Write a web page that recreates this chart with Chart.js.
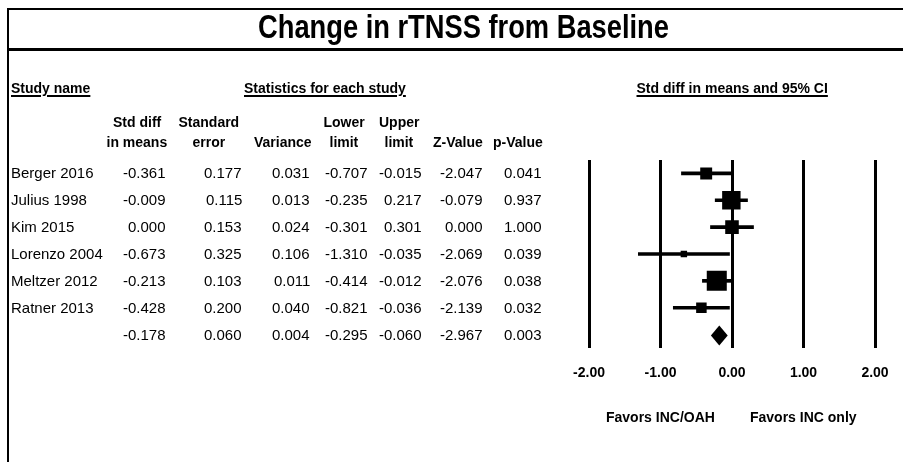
<!DOCTYPE html>
<html><head><meta charset="utf-8">
<script src="https://cdn.jsdelivr.net/npm/chart.js@4"></script>
<style>
html,body{margin:0;padding:0;background:#fff;}
#wrap{position:relative;width:903px;height:462px;overflow:hidden;background:#fff;font-family:"Liberation Sans",Arial,sans-serif;color:#000;}
#c{position:absolute;left:0;top:0;}
.t{position:absolute;white-space:nowrap;color:#000;}
.ln{position:absolute;background:#000;}
</style></head><body>
<div id="wrap">
<canvas id="c" width="903" height="462"></canvas>
<div class="ln" style="left:7px;top:8px;width:896px;height:2px"></div>
<div class="ln" style="left:7px;top:48px;width:896px;height:3px"></div>
<div class="ln" style="left:7px;top:8px;width:2px;height:454px"></div>
</div>
<script>
// ---- data ----
const studies  = ['Berger 2016','Julius 1998','Kim 2015','Lorenzo 2004','Meltzer 2012','Ratner 2013',''];
const stdDiff  = [-0.361,-0.009, 0.000,-0.673,-0.213,-0.428,-0.178];
const stdErr   = [ 0.177, 0.115, 0.153, 0.325, 0.103, 0.200, 0.060];
const variance = [ 0.031, 0.013, 0.024, 0.106, 0.011, 0.040, 0.004];
const lowerLim = [-0.707,-0.235,-0.301,-1.310,-0.414,-0.821,-0.295];
const upperLim = [-0.015, 0.217, 0.301,-0.035,-0.012,-0.036,-0.060];
const zValue   = [-2.047,-0.079, 0.000,-2.069,-2.076,-2.139,-2.967];
const pValue   = [ 0.041, 0.937, 1.000, 0.039, 0.038, 0.032, 0.003];
const xTicks   = [-2,-1,0,1,2];
const summaryIndex = 6;

const rowKeys = studies.map((s,i)=> s || ('Summary'));
const wrap = document.getElementById('wrap');
const FONT = '"Liberation Sans", Arial, sans-serif';

function put(text, x, cy, o) {
  o = o || {};
  const d = document.createElement('div');
  d.className = 't';
  d.textContent = text;
  d.style.font = o.font || ('15px ' + FONT);
  const lh = 20;
  d.style.lineHeight = lh + 'px';
  d.style.top = (cy - lh/2) + 'px';
  if (o.underline) {
    d.style.textDecoration = 'underline';
    d.style.textDecorationThickness = '2px';
    d.style.textUnderlineOffset = '2px';
  }
  wrap.appendChild(d);
  let w = d.offsetWidth;
  let sx = 1;
  if (o.fit) { sx = o.fit / w; d.style.transform = 'scaleX(' + sx + ')'; d.style.transformOrigin = '0 50%'; w = o.fit; }
  const a = o.align || 'left';
  d.style.left = (a === 'left' ? x : a === 'right' ? x - w : x - w/2) + 'px';
  return d;
}

// ---- chart ----
const ciData = lowerLim.map((l,i)=> i === summaryIndex ? null : [l, upperLim[i]]);
const pts = stdDiff.map((v,i)=> i === summaryIndex ? null : {x:v, y:rowKeys[i]}).filter(p=>p);
const radii = variance.slice(0, summaryIndex).map(v => 2.1*Math.sqrt(1/v)/Math.SQRT2);

const diamondPlugin = {
  id: 'diamond',
  afterDatasetsDraw(chart) {
    const xs = chart.scales.x, ys = chart.scales.y, ctx = chart.ctx, i = summaryIndex;
    const yc = ys.getPixelForValue(i) + 1;
    const xl = xs.getPixelForValue(lowerLim[i]), xm = xs.getPixelForValue(stdDiff[i]), xr = xs.getPixelForValue(upperLim[i]);
    ctx.save();
    ctx.fillStyle = '#000';
    ctx.beginPath();
    ctx.moveTo(xl, yc); ctx.lineTo(xm, yc-10); ctx.lineTo(xr, yc); ctx.lineTo(xm, yc+10);
    ctx.closePath(); ctx.fill();
    ctx.restore();
  }
};

const chart = new Chart(document.getElementById('c'), {
  type: 'bar',
  data: {
    labels: rowKeys,
    datasets: [
      { type:'bar', data: ciData, backgroundColor:'#000', barThickness:3, borderWidth:0, order:2 },
      { type:'scatter', data: pts, pointStyle:'rect', pointRadius: radii, pointHoverRadius: radii,
        backgroundColor:'#000', borderWidth:0, order:1 }
    ]
  },
  options: {
    indexAxis: 'y', responsive: false, animation: false, events: [],
    layout: { padding: { left: 589, right: 28, top: 160, bottom: 0 } },
    plugins: { legend: { display:false }, tooltip: { enabled:false } },
    scales: {
      x: {
        type:'linear', min:-2, max:2,
        afterBuildTicks: s => { s.ticks = xTicks.map(v => ({value:v})); },
        afterFit: s => { s.height = 114; s.paddingLeft = 0; s.paddingRight = 0; },
        grid: { color:'#000', lineWidth:3, drawTicks:false },
        border: { display:false },
        ticks: { padding:17, color:'#000', font:{ family: FONT, size:14, weight:'bold' }, callback: v => Number(v).toFixed(2) }
      },
      y: { type:'category', display:false, offset:true }
    }
  },
  plugins: [diamondPlugin]
});

// ---- texts ----
put('Change in rTNSS from Baseline', 463, 27, { font: 'bold 33px ' + FONT, align:'center', fit: 411 });
put('Study name', 11, 88, { font:'bold 14px ' + FONT, underline:true });
put('Statistics for each study', 325, 88, { font:'bold 14px ' + FONT, align:'center', underline:true });
const xs = chart.scales.x, ys = chart.scales.y;
put('Std diff in means and 95% CI', xs.getPixelForValue(0), 88, { font:'bold 14px ' + FONT, align:'center', underline:true });

const H = 'bold 14px ' + FONT;
[['Std diff',137],['Standard',209],['Lower',344],['Upper',399]].forEach(([t,x]) => put(t, x, 122, {font:H, align:'center'}));
[['in means',137],['error',209],['Variance',283],['limit',344],['limit',399],['Z-Value',458],['p-Value',518]].forEach(([t,x]) => put(t, x, 142, {font:H, align:'center'}));

const colRight = [166, 242, 310, 368, 422, 483, 542];
const cols = [stdDiff, stdErr, variance, lowerLim, upperLim, zValue, pValue];
rowKeys.forEach((k,i) => {
  const cy = ys.getPixelForValue(i);
  if (studies[i]) put(studies[i], 11, cy);
  cols.forEach((arr,j) => put(Math.abs(arr[i]) < 0.0005 ? '0.000' : arr[i].toFixed(3), colRight[j], cy, {align:'right'}));
});

put('Favors INC/OAH', xs.getPixelForValue(-1), 417, { font:H, align:'center' });
put('Favors INC only', xs.getPixelForValue(1), 417, { font:H, align:'center' });
</script>
</body></html>
